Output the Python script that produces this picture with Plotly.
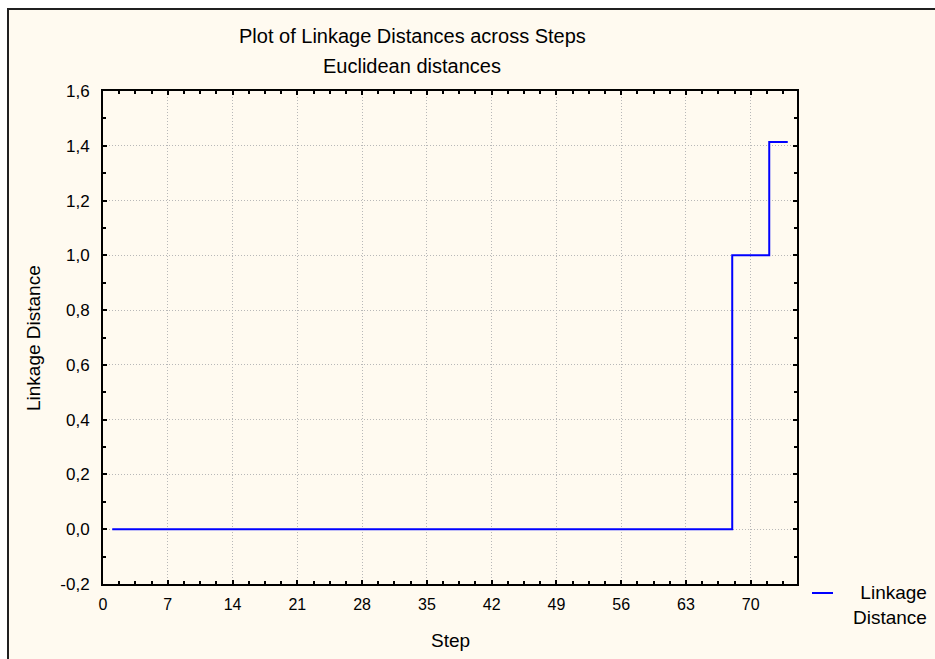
import plotly.graph_objects as go

# Amalgamation schedule: linkage distance at each joining step
steps = [1, 2, 3, 4, 5, 6, 7, 8, 9, 10, 11, 12, 13, 14, 15, 16, 17, 18, 19, 20,
         21, 22, 23, 24, 25, 26, 27, 28, 29, 30, 31, 32, 33, 34, 35, 36, 37, 38, 39, 40,
         41, 42, 43, 44, 45, 46, 47, 48, 49, 50, 51, 52, 53, 54, 55, 56, 57, 58, 59, 60,
         61, 62, 63, 64, 65, 66, 67, 68, 69, 70, 71, 72, 73, 74]
linkage_distance = [0.0, 0.0, 0.0, 0.0, 0.0, 0.0, 0.0, 0.0, 0.0, 0.0,
                    0.0, 0.0, 0.0, 0.0, 0.0, 0.0, 0.0, 0.0, 0.0, 0.0,
                    0.0, 0.0, 0.0, 0.0, 0.0, 0.0, 0.0, 0.0, 0.0, 0.0,
                    0.0, 0.0, 0.0, 0.0, 0.0, 0.0, 0.0, 0.0, 0.0, 0.0,
                    0.0, 0.0, 0.0, 0.0, 0.0, 0.0, 0.0, 0.0, 0.0, 0.0,
                    0.0, 0.0, 0.0, 0.0, 0.0, 0.0, 0.0, 0.0, 0.0, 0.0,
                    0.0, 0.0, 0.0, 0.0, 0.0, 0.0, 0.0,
                    1.0, 1.0, 1.0, 1.0,
                    1.414, 1.414, 1.414]

x_tickvals = [0, 7, 14, 21, 28, 35, 42, 49, 56, 63, 70]
y_tickvals = [-0.2, 0.0, 0.2, 0.4, 0.6, 0.8, 1.0, 1.2, 1.4, 1.6]
y_ticktext = ["-0,2", "0,0", "0,2", "0,4", "0,6", "0,8", "1,0", "1,2", "1,4", "1,6"]

FONT = "Liberation Sans, Arial, sans-serif"
CREAM = "#fffaf0"
BLUE = "#0000ff"

W, H = 935, 659
L, R, T, B = 103, 138, 91, 75
PW, PH = W - L - R, H - T - B


def px(x):
    return (x - L) / PW


def py(y):
    return (H - B - y) / PH


fig = go.Figure()
fig.add_trace(go.Scatter(
    x=steps, y=linkage_distance, mode="lines", line_shape="hv",
    line=dict(color=BLUE, width=2), name="Linkage Distance", showlegend=False,
))

axis_common = dict(
    showline=True, linecolor="black", linewidth=2, mirror="ticks",
    ticks="inside", ticklen=4, tickwidth=2, tickcolor="black",
    showgrid=True, gridcolor="#b8b8b8", gridwidth=1, griddash="1px,2px",
    zeroline=False,
)

fig.update_xaxes(
    range=[0, 75], tickvals=x_tickvals, ticklabelstandoff=5,
    tickfont=dict(family=FONT, size=16, color="black"),
    minor=dict(dtick=1.75, tick0=0, ticks="inside", ticklen=3, tickwidth=2,
               tickcolor="black", showgrid=False),
    **axis_common,
)
fig.update_yaxes(
    range=[-0.2, 1.6], tickvals=y_tickvals, ticktext=y_ticktext, ticklabelstandoff=8,
    tickfont=dict(family=FONT, size=17, color="black"),
    minor=dict(dtick=0.1, tick0=0, ticks="inside", ticklen=3, tickwidth=2,
               tickcolor="black", showgrid=False),
    **axis_common,
)

shapes = [
    # cream panel with dark border on its top and left edges
    dict(type="rect", xref="paper", yref="paper", layer="below",
         x0=px(9), x1=px(W + 20), y0=py(H + 20), y1=py(10),
         fillcolor=CREAM, line=dict(width=0)),
    dict(type="line", xref="paper", yref="paper", layer="below",
         x0=px(8), x1=px(8), y0=py(H + 20), y1=py(8),
         line=dict(color="#202020", width=2)),
    dict(type="line", xref="paper", yref="paper", layer="below",
         x0=px(7), x1=px(W + 20), y0=py(9), y1=py(9),
         line=dict(color="#202020", width=2)),
    # legend sample line
    dict(type="line", xref="paper", yref="paper",
         x0=px(812), x1=px(833), y0=py(593), y1=py(593),
         line=dict(color=BLUE, width=2)),
]

annotations = [
    dict(text="Plot of Linkage Distances across Steps", x=px(412), y=py(36),
         font=dict(family=FONT, size=20, color="black")),
    dict(text="Euclidean distances", x=px(412), y=py(66),
         font=dict(family=FONT, size=20, color="black")),
    dict(text="Step", x=px(450), y=py(640),
         font=dict(family=FONT, size=19, color="black")),
    dict(text="Linkage Distance", x=px(33), y=py(338), textangle=-90,
         font=dict(family=FONT, size=19, color="black")),
    dict(text="Linkage<br>Distance", x=px(929), y=py(605), xanchor="right",
         align="right", font=dict(family=FONT, size=19, color="black")),
]
for a in annotations:
    a.setdefault("xanchor", "center")
    a.update(xref="paper", yref="paper", yanchor="middle", showarrow=False)

fig.update_layout(
    width=W, height=H, margin=dict(l=L, r=R, t=T, b=B, autoexpand=False),
    paper_bgcolor="white", plot_bgcolor="white",
    separators=", ", showlegend=False,
    shapes=shapes, annotations=annotations,
)

fig.write_html("out.html")
